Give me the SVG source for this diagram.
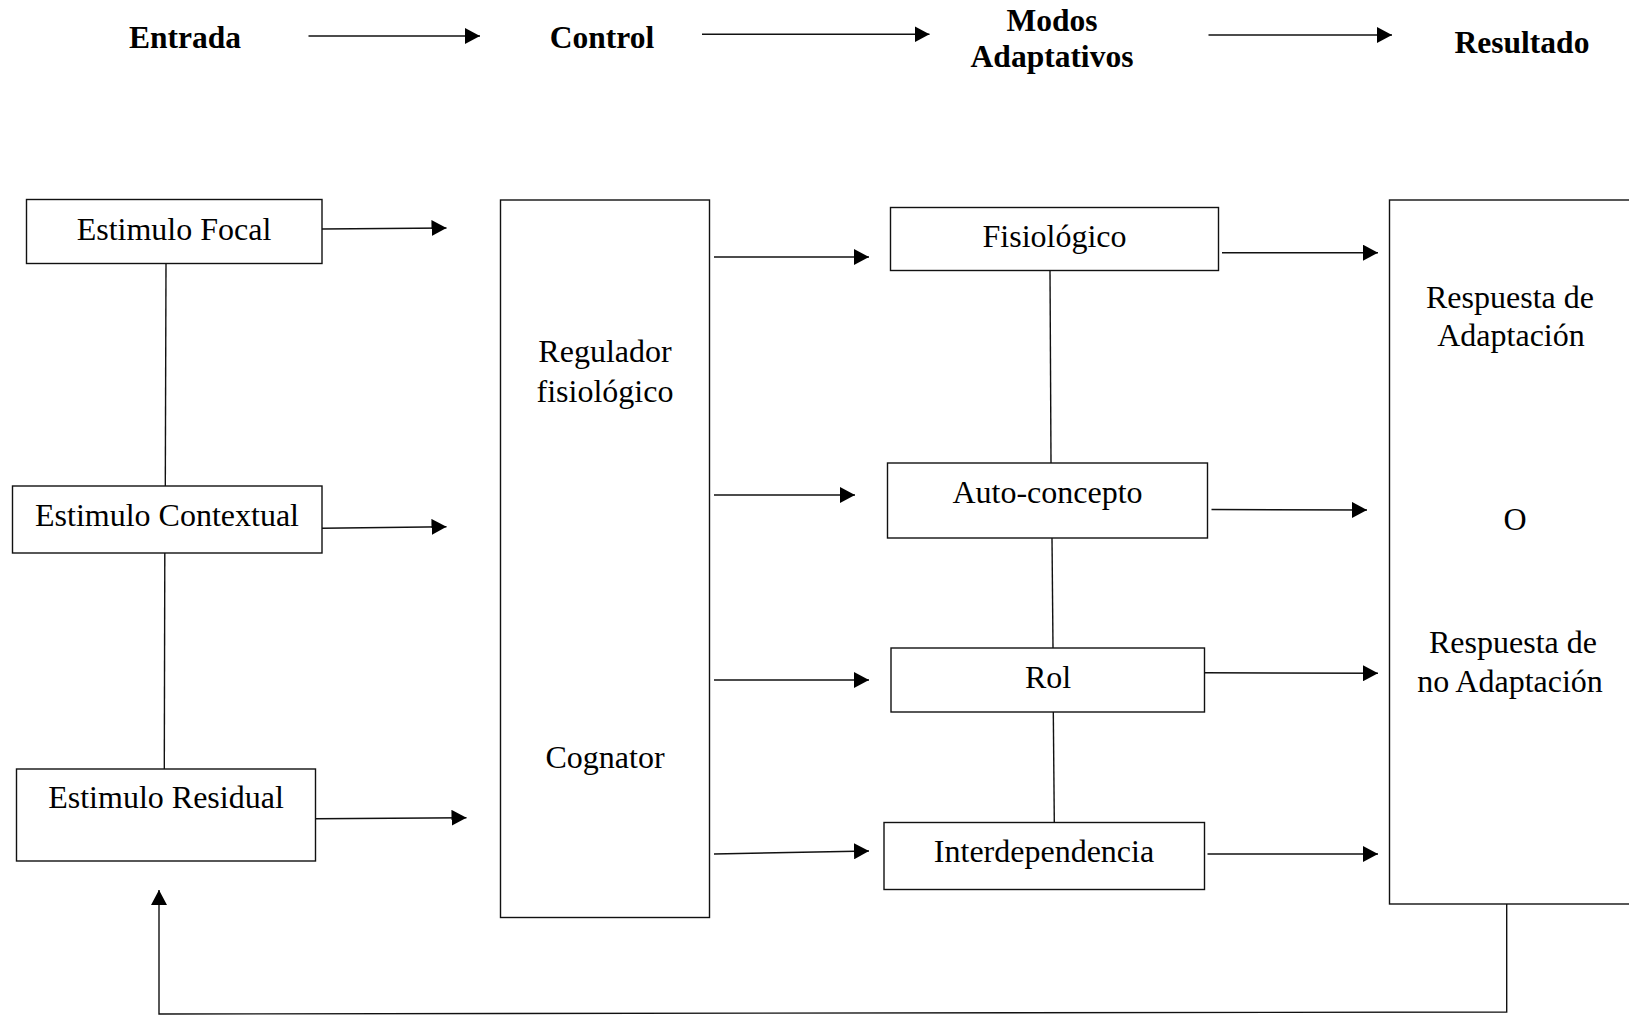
<svg xmlns="http://www.w3.org/2000/svg" width="1629" height="1015" viewBox="0 0 1629 1015">
  <style>
    .box { fill: #fff; stroke: #111; stroke-width: 1.4; }
    .lbl { font-family: "Liberation Serif", "Times New Roman", serif; font-size: 32px; fill: #000; text-anchor: middle; }
    .hdr { font-family: "Liberation Serif", "Times New Roman", serif; font-size: 31.5px; font-weight: bold; fill: #000; text-anchor: middle; }
    .ln { fill: none; stroke: #111; stroke-width: 1.4; }
    .arr { fill: none; stroke: #111; stroke-width: 1.4; marker-end: url(#head); }
  </style>
  <defs>
    <marker id="head" markerUnits="userSpaceOnUse" markerWidth="16" markerHeight="16" refX="15" refY="8" orient="auto">
      <path d="M0,0 L15,8 L0,16 Z" fill="#000"/>
    </marker>
  </defs>
  <rect width="1629" height="1015" fill="#fff"/>

  <!-- column headings -->
  <g id="headings">
    <text class="hdr" x="185" y="48">Entrada</text>
    <text class="hdr" x="602" y="48">Control</text>
    <text class="hdr" x="1052" y="31">Modos</text>
    <text class="hdr" x="1052" y="66.5">Adaptativos</text>
    <text class="hdr" x="1522" y="53">Resultado</text>
  </g>

  <!-- input stimuli -->
  <g id="estimulo-focal">
    <rect class="box" x="26.5" y="199.5" width="295.5" height="64"/>
    <text class="lbl" x="174" y="240">Estimulo Focal</text>
  </g>
  <g id="estimulo-contextual">
    <rect class="box" x="12.5" y="486" width="309.5" height="67"/>
    <text class="lbl" x="167" y="526">Estimulo Contextual</text>
  </g>
  <g id="estimulo-residual">
    <rect class="box" x="16.5" y="769" width="299" height="92"/>
    <text class="lbl" x="166" y="808">Estimulo Residual</text>
  </g>

  <!-- control mechanisms -->
  <g id="control">
    <rect class="box" x="500.5" y="200" width="209" height="717.5"/>
    <text class="lbl" x="605" y="361.5">Regulador</text>
    <text class="lbl" x="605" y="401.5">fisiológico</text>
    <text class="lbl" x="605" y="768">Cognator</text>
  </g>

  <!-- adaptive modes -->
  <g id="modo-fisiologico">
    <rect class="box" x="890.5" y="207.5" width="328" height="63"/>
    <text class="lbl" x="1054.5" y="246.5">Fisiológico</text>
  </g>
  <g id="modo-autoconcepto">
    <rect class="box" x="887.5" y="463" width="320" height="75"/>
    <text class="lbl" x="1047.5" y="502.5">Auto-concepto</text>
  </g>
  <g id="modo-rol">
    <rect class="box" x="891" y="648" width="313.5" height="64"/>
    <text class="lbl" x="1048" y="687.5">Rol</text>
  </g>
  <g id="modo-interdependencia">
    <rect class="box" x="884" y="822.5" width="320.5" height="67"/>
    <text class="lbl" x="1044" y="862">Interdependencia</text>
  </g>

  <!-- outcome -->
  <g id="resultado">
    <rect class="box" x="1389.5" y="200" width="245" height="704"/>
    <text class="lbl" x="1510" y="308">Respuesta de</text>
    <text class="lbl" x="1511" y="345.5">Adaptación</text>
    <text class="lbl" x="1515" y="530">O</text>
    <text class="lbl" x="1513" y="652.5">Respuesta de</text>
    <text class="lbl" x="1510" y="691.5">no Adaptación</text>
  </g>

  <g id="connectors">
    <!-- heading flow -->
    <path class="arr" d="M308.5,36 L480,36"/>
    <path class="arr" d="M702,34.3 L929.5,34.3"/>
    <path class="arr" d="M1208.5,35 L1392,35"/>

    <!-- stimuli chain -->
    <path class="ln" d="M166,263.5 L165.3,486"/>
    <path class="ln" d="M164.8,553 L164.3,769"/>

    <!-- stimuli to control -->
    <path class="arr" d="M322,229 L446.5,228"/>
    <path class="arr" d="M322,528.3 L446.5,526.7"/>
    <path class="arr" d="M315.5,818.7 L466.5,817.7"/>

    <!-- control to modes -->
    <path class="arr" d="M714,257 L869,257"/>
    <path class="arr" d="M714,495 L855,495"/>
    <path class="arr" d="M714,680 L869,680"/>
    <path class="arr" d="M714,854 L869,851"/>

    <!-- links between modes -->
    <path class="ln" d="M1050,270.5 L1051,463"/>
    <path class="ln" d="M1052,538 L1053,648"/>
    <path class="ln" d="M1053.3,712 L1054.3,822.5"/>

    <!-- modes to outcome -->
    <path class="arr" d="M1222,252.7 L1378,252.7"/>
    <path class="arr" d="M1211.5,509.5 L1367,510"/>
    <path class="arr" d="M1204.5,672.7 L1378,673.3"/>
    <path class="arr" d="M1207.5,854 L1378,854"/>

    <!-- feedback loop -->
    <path class="arr" d="M1506.7,904 L1506.7,1012 L159,1014 L159,890"/>
  </g>
</svg>
